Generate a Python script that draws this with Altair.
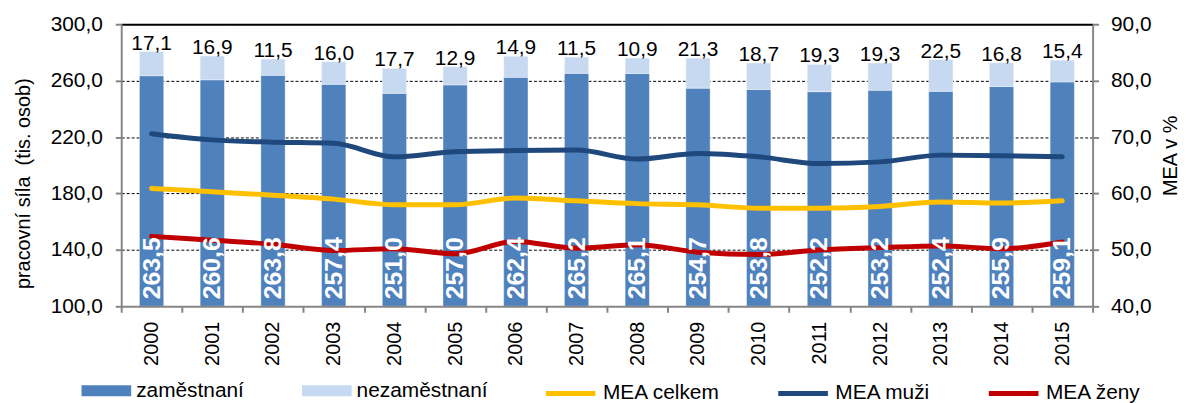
import altair as alt
import pandas as pd

# ---------------- data ----------------
years = [str(y) for y in range(2000, 2016)]
zamestnani = [263.5, 260.6, 263.8, 257.4, 251.0, 257.0, 262.4, 265.2,
              265.1, 254.7, 253.8, 252.2, 253.2, 252.4, 255.9, 259.1]
nezamestnani = [17.1, 16.9, 11.5, 16.0, 17.7, 12.9, 14.9, 11.5,
                10.9, 21.3, 18.7, 19.3, 19.3, 22.5, 16.8, 15.4]
mea_celkem = [60.9, 60.3, 59.7, 59.0, 58.0, 58.0, 59.2, 58.7,
              58.2, 58.0, 57.4, 57.4, 57.7, 58.5, 58.3, 58.7]
mea_muzi = [70.6, 69.5, 69.1, 68.9, 66.5, 67.4, 67.6, 67.7,
            66.1, 67.1, 66.5, 65.3, 65.6, 66.8, 66.7, 66.5]
mea_zeny = [52.4, 51.7, 51.0, 49.9, 50.2, 49.3, 51.5, 50.3,
            50.9, 49.6, 49.2, 50.0, 50.4, 50.7, 50.2, 51.4]

bar_series = ["zaměstnaní", "nezaměstnaní"]
bar_colors = ["#4F81BD", "#C6D9F1"]
line_series = ["MEA celkem", "MEA muži", "MEA ženy"]
line_colors = ["#FFC000", "#1F497D", "#C00000"]

left_ticks = [100, 140, 180, 220, 260, 300]
right_ticks = [40, 50, 60, 70, 80, 90]


def cz(v):
    return f"{v:.1f}".replace(".", ",")


# ---------------- tables ----------------
bar_rows = []
for y, z, n in zip(years, zamestnani, nezamestnani):
    bar_rows.append({"rok": y, "serie": bar_series[0], "lo": 100.0, "hi": z})
    bar_rows.append({"rok": y, "serie": bar_series[1], "lo": z, "hi": z + n})
bars_df = pd.DataFrame(bar_rows)

lab_df = pd.DataFrame({
    "rok": years,
    "celkem": [z + n for z, n in zip(zamestnani, nezamestnani)],
    "lab_z": [cz(v) for v in zamestnani],
    "lab_n": [cz(v) for v in nezamestnani],
})

line_rows = []
for name, vals in zip(line_series, [mea_celkem, mea_muzi, mea_zeny]):
    for y, v in zip(years, vals):
        line_rows.append({"rok": y, "serie": name, "hodnota": v})
lines_df = pd.DataFrame(line_rows)

# ---------------- styling ----------------
FONT = "Liberation Sans"
GRAY = "#868686"
num_expr = "replace(format(datum.value, '.1f'), '.', ',')"

x_enc = alt.X(
    "rok:N",
    sort=years,
    scale=alt.Scale(paddingInner=0, paddingOuter=0),
    axis=alt.Axis(
        title=None, tickBand="extent", labelAngle=270, labelFontSize=20,
        labelColor="black", tickSize=6, tickWidth=2, tickColor=GRAY,
        domainColor=GRAY, domainWidth=2, labelPadding=9, grid=False, zindex=1,
    ),
)

y_left_scale = alt.Scale(domain=[100, 300], zero=False, nice=False)

left_axis = alt.Axis(
    values=left_ticks,
    labelExpr=num_expr,
    title="pracovní síla \u00a0(tis. osob)",
    titleFontSize=20, titleFontWeight="normal", titleColor="black",
    titleAngle=270, titleAlign="center", titleBaseline="middle",
    titleX=-98, titleY=160,
    labelFontSize=21, labelColor="black", labelPadding=13,
    tickSize=6, tickWidth=2, tickColor=GRAY,
    domainColor=GRAY, domainWidth=2,
    grid=True, gridColor="black",
    gridDash={"condition": {"test": "datum.value == 300", "value": [1, 0]}, "value": [3, 2]},
    gridWidth={"condition": {"test": "datum.value == 300", "value": 2}, "value": 1},
    gridOpacity={"condition": {"test": "datum.value == 100", "value": 0}, "value": 1},
)

bars = alt.Chart(bars_df).mark_bar(
    width=alt.RelativeBandSize(0.4), stroke="white", strokeWidth=0.8, strokeOpacity=0.5
).encode(
    x=x_enc,
    y=alt.Y("hi:Q", scale=y_left_scale, axis=left_axis),
    y2="lo:Q",
    fill=alt.Fill(
        "serie:N",
        scale=alt.Scale(domain=bar_series, range=bar_colors),
        legend=alt.Legend(
            title=None, orient="none", direction="horizontal",
            legendX=-40, legendY=344,
            symbolType="M-1,-0.22H1V0.22H-1Z", symbolSize=2500,
            symbolStrokeWidth=0, labelOffset=5, columnPadding=58,
            labelFontSize=21, labelColor="black", padding=0,
        ),
    ),
    order=alt.Order("lo:Q"),
)

lines = alt.Chart(lines_df).mark_line(
    strokeWidth=5, strokeCap="round", strokeJoin="round", interpolate="monotone"
).encode(
    x=x_enc,
    y=alt.Y(
        "hodnota:Q",
        scale=alt.Scale(domain=[40, 90], zero=False, nice=False),
        axis=alt.Axis(
            orient="right", values=right_ticks, labelExpr=num_expr,
            title="MEA v %", titleFontSize=20, titleFontWeight="normal",
            titleColor="black", titleAngle=270, titleAlign="center",
            titleBaseline="middle", titleX=78, titleY=132,
            labelFontSize=21, labelColor="black", labelPadding=12,
            tickSize=6, tickWidth=2, tickColor=GRAY,
            domainColor=GRAY, domainWidth=2, grid=False,
        ),
    ),
    stroke=alt.Stroke(
        "serie:N",
        sort=line_series,
        scale=alt.Scale(domain=line_series, range=line_colors),
        legend=alt.Legend(
            title=None, orient="none", direction="horizontal",
            legendX=425, legendY=344,
            symbolType="stroke", symbolSize=2500, symbolStrokeWidth=5,
            labelOffset=5, columnPadding=48,
            labelFontSize=21, labelColor="black", padding=0,
        ),
    ),
)

top_labels = alt.Chart(lab_df).mark_text(
    baseline="alphabetic", dy=-2, fontSize=21, color="black"
).encode(
    x=x_enc,
    y=alt.Y("celkem:Q", scale=y_left_scale, axis=None),
    text="lab_n:N",
)

in_labels = alt.Chart(lab_df).mark_text(
    angle=270, align="left", baseline="middle", dx=7,
    fontSize=25, fontWeight="bold", color="white"
).encode(
    x=x_enc,
    y=alt.YDatum(100, type="quantitative", scale=y_left_scale, axis=None),
    text="lab_z:N",
)

labels = alt.layer(top_labels, in_labels)

chart = alt.layer(bars, lines, labels).resolve_scale(
    y="independent"
).properties(
    width=978,
    height=284,
    autosize=alt.AutoSizeParams(type="none"),
    padding={"left": 114, "top": 15, "right": 90, "bottom": 96},
).configure(
    font=FONT
).configure_view(
    stroke=None
).configure_axis(
    labelFont=FONT, titleFont=FONT
).configure_legend(
    labelFont=FONT
)

chart.save("out.html", embed_options={"renderer": "svg", "actions": False})
